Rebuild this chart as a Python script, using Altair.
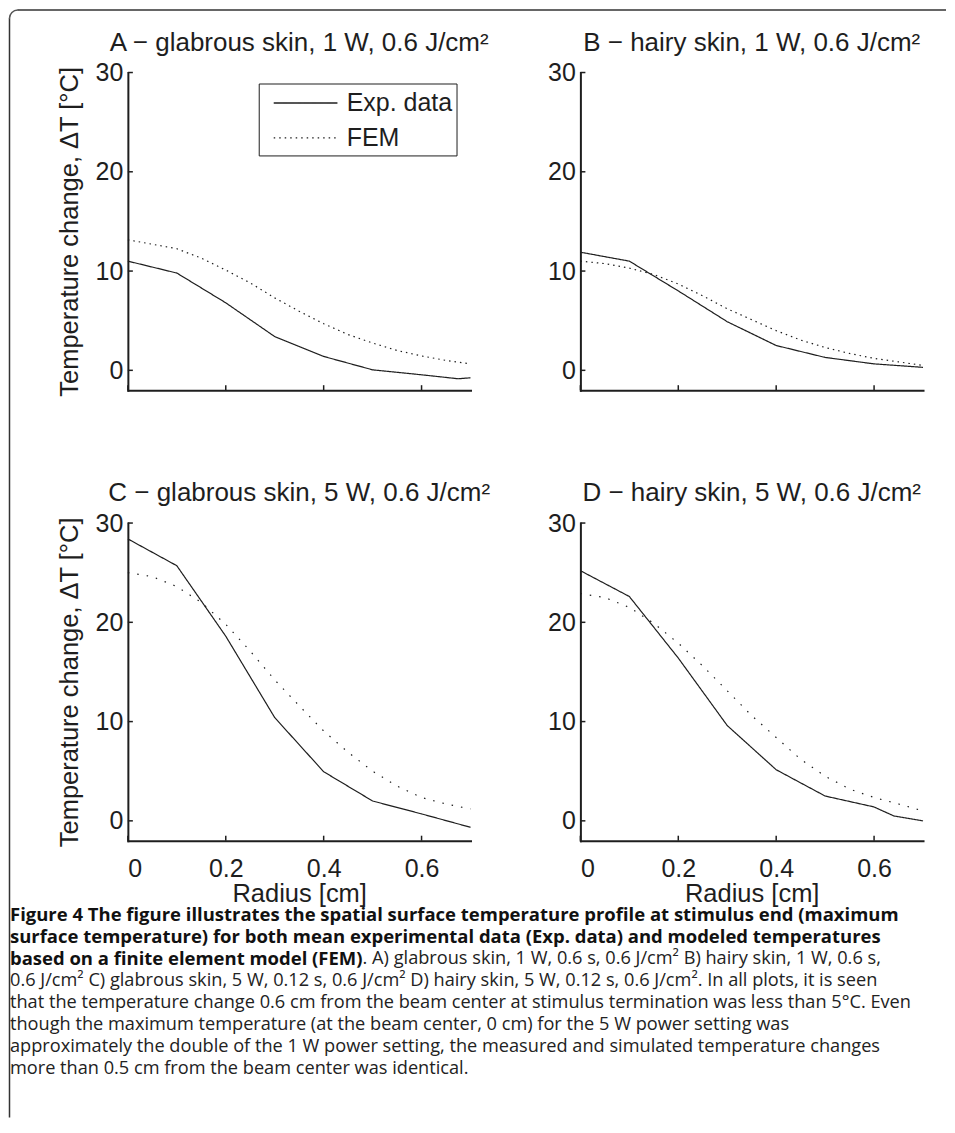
import altair as alt
import pandas as pd

FONT = "Liberation Sans, Arial, Helvetica, sans-serif"
CAP_FONT = "Open Sans, sans-serif"
INK = "#1e1e1e"

TITLES = [
    "A \u2212 glabrous skin, 1 W, 0.6 J/cm\u00b2",
    "B \u2212 hairy skin, 1 W, 0.6 J/cm\u00b2",
    "C \u2212 glabrous skin, 5 W, 0.6 J/cm\u00b2",
    "D \u2212 hairy skin, 5 W, 0.6 J/cm\u00b2",
]
SERIES = ["Exp. data", "FEM"]
X_TICKS = [0, 0.2, 0.4, 0.6]
Y_TICKS = [0, 10, 20, 30]
Y_TITLE = "Temperature change, \u0394T [\u00b0C]"
X_TITLE = "Radius [cm]"

FEM_R = [0, 0.05, 0.1, 0.15, 0.2, 0.25, 0.3, 0.35, 0.4, 0.45, 0.5, 0.55, 0.6, 0.65, 0.7]

A_EXP_R = [0, 0.1, 0.2, 0.3, 0.4, 0.5, 0.6, 0.675, 0.7]
A_EXP_T = [11.0, 9.8, 6.8, 3.4, 1.4, 0.05, -0.45, -0.85, -0.75]
A_FEM_T = [13.15, 12.7, 12.25, 11.3, 10.1, 8.8, 7.3, 5.95, 4.7, 3.6, 2.75, 2.0, 1.45, 1.0, 0.65]

B_EXP_R = [0, 0.1, 0.2, 0.3, 0.4, 0.5, 0.6, 0.7]
B_EXP_T = [11.9, 11.0, 8.0, 4.9, 2.5, 1.3, 0.65, 0.3]
B_FEM_T = [11.0, 10.75, 10.3, 9.65, 8.7, 7.5, 6.2, 5.1, 4.0, 3.05, 2.3, 1.7, 1.2, 0.85, 0.5]

C_EXP_R = [0, 0.1, 0.2, 0.3, 0.4, 0.5, 0.6, 0.7]
C_EXP_T = [28.4, 25.7, 18.6, 10.4, 4.95, 2.0, 0.7, -0.65]
C_FEM_T = [25.0, 24.6, 23.6, 22.0, 19.8, 17.1, 14.2, 11.6, 9.05, 6.9, 5.0, 3.5, 2.35, 1.7, 1.2]

D_EXP_R = [0, 0.1, 0.2, 0.3, 0.4, 0.5, 0.6, 0.64, 0.7]
D_EXP_T = [25.2, 22.6, 16.4, 9.6, 5.15, 2.5, 1.4, 0.5, 0.0]
D_FEM_T = [22.9, 22.5, 21.5, 19.9, 17.9, 15.6, 13.1, 10.6, 8.4, 6.2, 4.5, 3.2, 2.35, 1.7, 1.0]

CAPTION_BOLD = [
    "Figure 4 The figure illustrates the spatial surface temperature profile at stimulus end (maximum",
    "surface temperature) for both mean experimental data (Exp. data) and modeled temperatures",
    "based on a finite element model (FEM)",
]
CAPTION_CONT = ". A) glabrous skin, 1 W, 0.6 s, 0.6 J/cm\u00b2 B) hairy skin, 1 W, 0.6 s,"
CAPTION_REG = [
    "0.6 J/cm\u00b2 C) glabrous skin, 5 W, 0.12 s, 0.6 J/cm\u00b2 D) hairy skin, 5 W, 0.12 s, 0.6 J/cm\u00b2. In all plots, it is seen",
    "that the temperature change 0.6 cm from the beam center at stimulus termination was less than 5\u00b0C. Even",
    "though the maximum temperature (at the beam center, 0 cm) for the 5 W power setting was",
    "approximately the double of the 1 W power setting, the measured and simulated temperature changes",
    "more than 0.5 cm from the beam center was identical.",
]

W, H = 343, 318
BOLD_SIZE = 18.5
REG_SIZE = 18.2


def panel(title, exp_r, exp_t, fem_t, dot_gap, bottom, left, legend):
    rows = [{"r": r, "t": t, "s": SERIES[0]} for r, t in zip(exp_r, exp_t)]
    rows += [{"r": r, "t": t, "s": SERIES[1]} for r, t in zip(FEM_R, fem_t)]
    df = pd.DataFrame(rows)

    x_enc = alt.X(
        "r:Q",
        scale=alt.Scale(domain=[0, 0.7], nice=False, zero=False),
        axis=alt.Axis(values=X_TICKS, labels=bottom, format=".1~f"),
        title=X_TITLE if bottom else None,
    )
    y_enc = alt.Y(
        "t:Q",
        scale=alt.Scale(domain=[-2, 30], nice=False, zero=False),
        axis=alt.Axis(values=Y_TICKS),
        title=Y_TITLE if left else None,
    )
    if legend:
        leg = alt.Legend(
            orient="none", legendX=131, legendY=11, title=None,
            strokeColor=INK, fillColor="white", padding=4,
            labelFont=FONT, labelFontSize=25, labelColor=INK, labelOffset=25.6,
            symbolType="M-2.2,0H2.2", symbolSize=841, symbolStrokeWidth=1.3,
            symbolStrokeColor=INK, symbolFillColor="transparent",
            symbolOffset=27.4, rowPadding=6,
        )
    else:
        leg = None
    lines = alt.Chart(df).mark_line(strokeWidth=1.2, color=INK).encode(
        x=x_enc,
        y=y_enc,
        strokeDash=alt.StrokeDash(
            "s:N",
            scale=alt.Scale(domain=SERIES, range=[[1, 0], [1.5, dot_gap]]),
            legend=leg,
        ),
    )
    xt = alt.Chart(pd.DataFrame({"r": X_TICKS})).mark_rule(color=INK, strokeWidth=1.5).encode(
        x=x_enc, y=alt.value(H), y2=alt.value(H - 5)
    )
    yt = alt.Chart(pd.DataFrame({"t": Y_TICKS})).mark_rule(color=INK, strokeWidth=1.5).encode(
        y=y_enc, x=alt.value(0), x2=alt.value(5)
    )
    return alt.layer(lines, xt, yt).properties(
        width=W,
        height=H,
        title=alt.TitleParams(
            title, font=FONT, fontSize=26, fontWeight="normal", color=INK,
            anchor="middle", frame="group", offset=-16, baseline="alphabetic",
        ),
    )


pA = panel(TITLES[0], A_EXP_R, A_EXP_T, A_FEM_T, 4, False, True, True)
pB = panel(TITLES[1], B_EXP_R, B_EXP_T, B_FEM_T, 4, False, False, False)
pC = panel(TITLES[2], C_EXP_R, C_EXP_T, C_FEM_T, 8, True, True, False)
pD = panel(TITLES[3], D_EXP_R, D_EXP_T, D_FEM_T, 8, True, False, False)

# caption
CAP_DY = -58.5
cap_y = alt.Y("line:Q", scale=alt.Scale(domain=[0, 6], reverse=True, nice=False, zero=False), axis=None)
cap_bold = alt.Chart(pd.DataFrame({"line": [0, 1, 2], "text": CAPTION_BOLD})).mark_text(
    align="left", baseline="middle", font=CAP_FONT, fontSize=BOLD_SIZE, fontWeight="bold", color="#111", dy=CAP_DY
).encode(x=alt.value(-118), y=cap_y, text="text:N")
cap_cont = alt.Chart(pd.DataFrame({"line": [2], "text": [CAPTION_CONT]})).mark_text(
    align="left", baseline="middle", font=CAP_FONT, fontSize=REG_SIZE, color="#222", dy=CAP_DY
).encode(x=alt.value(235), y=cap_y, text="text:N")
cap_reg = alt.Chart(pd.DataFrame({"line": [3, 4, 5, 6, 7], "text": CAPTION_REG})).mark_text(
    align="left", baseline="middle", font=CAP_FONT, fontSize=REG_SIZE, color="#222", dy=CAP_DY
).encode(x=alt.value(-118), y=cap_y, text="text:N")

# figure frame (left and top edges with a rounded corner)
frame_df = pd.DataFrame({"k": [0]})
f_left = alt.Chart(frame_df).mark_rule(color="#333", strokeWidth=1.5).encode(
    x=alt.value(-118.5), y=alt.value(-956.25), y2=alt.value(144)
)
f_top = alt.Chart(frame_df).mark_rule(color="#333", strokeWidth=1.5).encode(
    x=alt.value(-110.25), x2=alt.value(819), y=alt.value(-964.5)
)
f_corner = alt.Chart(frame_df).mark_arc(
    radius=8.25, radius2=8.25, theta=4.712389, theta2=6.283185,
    stroke="#555", strokeWidth=1.5, strokeJoin="round", fillOpacity=0,
).encode(x=alt.value(-110.25), y=alt.value(-956.25))

caption = alt.layer(f_left, f_top, f_corner, cap_bold, cap_cont, cap_reg).properties(width=W, height=132)

chart = alt.concat(
    pA, pB, pC, pD, caption, columns=2, spacing={"row": 133, "column": 110}, bounds="flush"
).resolve_scale(strokeDash="independent").resolve_legend(strokeDash="independent").properties(
    padding=0, background="white"
).configure_view(strokeWidth=0).configure_axis(
    domainColor=INK, domainWidth=2, domainCap="square", grid=False, ticks=False, tickSize=0,
    labelFont=FONT, labelFontSize=25, labelColor=INK,
    titleFont=FONT, titleFontSize=25.5, titleFontWeight="normal", titleColor=INK,
).configure_axisX(labelPadding=16, titlePadding=0).configure_axisY(labelPadding=5, titlePadding=13)

chart.save("out.html", embed_options={"renderer": "svg", "actions": False})
